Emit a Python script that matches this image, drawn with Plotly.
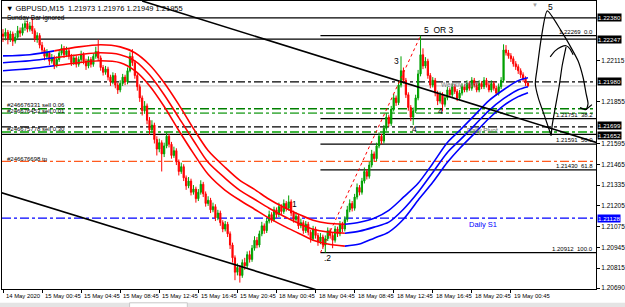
import plotly.graph_objects as go

# ---------------- data ----------------
X_TICK_BARS = [0, 16, 32, 48, 64, 80, 96, 112, 128, 144, 160, 176, 192, 208]
X_TICK_LABELS = ["14 May 2020", "15 May 00:45", "15 May 04:45", "15 May 08:45", "15 May 12:45",
                 "15 May 16:45", "15 May 20:45", "18 May 00:45", "18 May 04:45", "18 May 08:45",
                 "18 May 12:45", "18 May 16:45", "18 May 20:45", "19 May 00:45"]
PRICE_TICKS = [1.22115, 1.21855, 1.21595, 1.21465,
               1.21335, 1.21205, 1.21075, 1.20945, 1.20815, 1.20690]

CLOSE = [
    1.22265, 1.22290, 1.22250, 1.22280, 1.22235, 1.22260, 1.22300, 1.22285, 1.22320, 1.22345,
    1.22310, 1.22330, 1.22300, 1.22250, 1.22270, 1.22210, 1.22180, 1.22140, 1.22160, 1.22110,
    1.22130, 1.22085, 1.22120, 1.22160, 1.22190, 1.22150, 1.22175, 1.22140, 1.22100, 1.22130,
    1.22090, 1.22120, 1.22150, 1.22110, 1.22080, 1.22120, 1.22090, 1.22140, 1.22170, 1.22130,
    1.22070, 1.22040, 1.22060, 1.22010, 1.21980, 1.22020, 1.21960, 1.21930, 1.21970, 1.22010,
    1.21980, 1.22050, 1.22140, 1.22100, 1.22020, 1.21950, 1.21880, 1.21800, 1.21830, 1.21740,
    1.21680, 1.21710, 1.21620, 1.21560, 1.21600, 1.21530, 1.21580, 1.21640, 1.21590, 1.21520,
    1.21550, 1.21480, 1.21420, 1.21450, 1.21380, 1.21330, 1.21360, 1.21290, 1.21310, 1.21250,
    1.21290, 1.21340, 1.21280, 1.21220, 1.21240, 1.21180, 1.21200, 1.21130, 1.21160, 1.21100,
    1.21060, 1.21090, 1.21030, 1.20960, 1.20880, 1.20790, 1.20820, 1.20770, 1.20850, 1.20830,
    1.20900, 1.20870, 1.20940, 1.20990, 1.20960, 1.21030, 1.21080, 1.21050, 1.21110, 1.21150,
    1.21120, 1.21180, 1.21150, 1.21200, 1.21170, 1.21220, 1.21190, 1.21230, 1.21160, 1.21120,
    1.21140, 1.21080, 1.21100, 1.21050, 1.21090, 1.21040, 1.21000, 1.21060, 1.21020, 1.20980,
    1.21010, 1.20960, 1.21000, 1.21050, 1.21020, 1.20990, 1.21060, 1.21030, 1.21090, 1.21060,
    1.21120, 1.21180, 1.21220, 1.21190, 1.21260, 1.21320, 1.21290, 1.21360, 1.21420, 1.21390,
    1.21460, 1.21530, 1.21500, 1.21580, 1.21640, 1.21610, 1.21690, 1.21760, 1.21720, 1.21810,
    1.21880, 1.21850, 1.21960, 1.22050, 1.21990, 1.21900, 1.21820, 1.21760, 1.21800, 1.21880,
    1.22030, 1.22150, 1.22080, 1.22110, 1.22020, 1.21960, 1.21990, 1.21910, 1.21860, 1.21900,
    1.21840, 1.21880, 1.21930, 1.21900, 1.21950, 1.21920, 1.21880, 1.21910, 1.21950, 1.21930,
    1.21970, 1.21940, 1.21990, 1.21960, 1.21930, 1.21970, 1.21950, 1.21990, 1.21960, 1.21930,
    1.21970, 1.21940, 1.21910, 1.21950, 1.21990, 1.22180, 1.22162, 1.22143, 1.22125, 1.22093,
    1.22075, 1.22050, 1.22025, 1.22000, 1.21973, 1.21955,
]
OPEN = [
    1.22280, 1.22265, 1.22290, 1.22250, 1.22280, 1.22235, 1.22260, 1.22300, 1.22285, 1.22320,
    1.22345, 1.22310, 1.22330, 1.22300, 1.22250, 1.22270, 1.22210, 1.22180, 1.22140, 1.22160,
    1.22110, 1.22130, 1.22085, 1.22120, 1.22160, 1.22190, 1.22150, 1.22175, 1.22140, 1.22100,
    1.22130, 1.22090, 1.22120, 1.22150, 1.22110, 1.22080, 1.22120, 1.22090, 1.22140, 1.22170,
    1.22130, 1.22070, 1.22040, 1.22060, 1.22010, 1.21980, 1.22020, 1.21960, 1.21930, 1.21970,
    1.22010, 1.21980, 1.22050, 1.22140, 1.22100, 1.22020, 1.21950, 1.21880, 1.21800, 1.21830,
    1.21740, 1.21680, 1.21710, 1.21620, 1.21560, 1.21600, 1.21530, 1.21580, 1.21640, 1.21590,
    1.21520, 1.21550, 1.21480, 1.21420, 1.21450, 1.21380, 1.21330, 1.21360, 1.21290, 1.21310,
    1.21250, 1.21290, 1.21340, 1.21280, 1.21220, 1.21240, 1.21180, 1.21200, 1.21130, 1.21160,
    1.21100, 1.21060, 1.21090, 1.21030, 1.20960, 1.20880, 1.20790, 1.20820, 1.20770, 1.20850,
    1.20830, 1.20900, 1.20870, 1.20940, 1.20990, 1.20960, 1.21030, 1.21080, 1.21050, 1.21110,
    1.21150, 1.21120, 1.21180, 1.21150, 1.21200, 1.21170, 1.21220, 1.21190, 1.21230, 1.21160,
    1.21120, 1.21140, 1.21080, 1.21100, 1.21050, 1.21090, 1.21040, 1.21000, 1.21060, 1.21020,
    1.20980, 1.21010, 1.20960, 1.21000, 1.21050, 1.21020, 1.20990, 1.21060, 1.21030, 1.21090,
    1.21060, 1.21120, 1.21180, 1.21220, 1.21190, 1.21260, 1.21320, 1.21290, 1.21360, 1.21420,
    1.21390, 1.21460, 1.21530, 1.21500, 1.21580, 1.21640, 1.21610, 1.21690, 1.21760, 1.21720,
    1.21810, 1.21880, 1.21850, 1.21960, 1.22050, 1.21990, 1.21900, 1.21820, 1.21760, 1.21800,
    1.21880, 1.22030, 1.22150, 1.22080, 1.22110, 1.22020, 1.21960, 1.21990, 1.21910, 1.21860,
    1.21900, 1.21840, 1.21880, 1.21930, 1.21900, 1.21950, 1.21920, 1.21880, 1.21910, 1.21950,
    1.21930, 1.21970, 1.21940, 1.21990, 1.21960, 1.21930, 1.21970, 1.21950, 1.21990, 1.21960,
    1.21930, 1.21970, 1.21940, 1.21910, 1.21950, 1.21990, 1.22180, 1.22162, 1.22143, 1.22125,
    1.22093, 1.22075, 1.22050, 1.22025, 1.22000, 1.21973,
]
HIGH = [
    1.22310, 1.22315, 1.22305, 1.22300, 1.22295, 1.22285, 1.22330, 1.22320, 1.22345, 1.22365,
    1.22360, 1.22355, 1.22378, 1.22315, 1.22290, 1.22285, 1.22230, 1.22195, 1.22185, 1.22170,
    1.22155, 1.22145, 1.22140, 1.22180, 1.22215, 1.22205, 1.22200, 1.22190, 1.22155, 1.22150,
    1.22145, 1.22140, 1.22175, 1.22165, 1.22125, 1.22140, 1.22135, 1.22160, 1.22200, 1.22245,
    1.22145, 1.22085, 1.22080, 1.22075, 1.22025, 1.22040, 1.22035, 1.21975, 1.21990, 1.22030,
    1.22025, 1.22070, 1.22165, 1.22185, 1.22115, 1.22035, 1.21965, 1.21895, 1.21860, 1.21845,
    1.21760, 1.21740, 1.21725, 1.21640, 1.21625, 1.21615, 1.21600, 1.21665, 1.21655, 1.21605,
    1.21575, 1.21565, 1.21495, 1.21475, 1.21465, 1.21395, 1.21385, 1.21375, 1.21335, 1.21325,
    1.21310, 1.21365, 1.21355, 1.21295, 1.21265, 1.21255, 1.21225, 1.21215, 1.21180, 1.21175,
    1.21115, 1.21110, 1.21105, 1.21045, 1.20975, 1.20895, 1.20845, 1.20835, 1.20870, 1.20880,
    1.20920, 1.20925, 1.20960, 1.21015, 1.21010, 1.21050, 1.21105, 1.21095, 1.21130, 1.21175,
    1.21165, 1.21200, 1.21195, 1.21225, 1.21215, 1.21245, 1.21235, 1.21270, 1.21245, 1.21175,
    1.21165, 1.21155, 1.21125, 1.21115, 1.21110, 1.21105, 1.21055, 1.21080, 1.21075, 1.21035,
    1.21035, 1.21025, 1.21020, 1.21070, 1.21065, 1.21035, 1.21080, 1.21075, 1.21110, 1.21105,
    1.21140, 1.21205, 1.21245, 1.21235, 1.21280, 1.21345, 1.21335, 1.21380, 1.21445, 1.21435,
    1.21480, 1.21555, 1.21545, 1.21600, 1.21665, 1.21655, 1.21710, 1.21785, 1.21775, 1.21830,
    1.21905, 1.21895, 1.21985, 1.22140, 1.22070, 1.22005, 1.21915, 1.21835, 1.21820, 1.21900,
    1.22055, 1.22269, 1.22190, 1.22135, 1.22125, 1.22035, 1.22010, 1.22005, 1.21925, 1.21920,
    1.21915, 1.21900, 1.21950, 1.21945, 1.21970, 1.21965, 1.21935, 1.21930, 1.21970, 1.21965,
    1.21990, 1.21985, 1.22010, 1.22005, 1.21975, 1.21990, 1.21985, 1.22010, 1.22005, 1.21975,
    1.21990, 1.21985, 1.21955, 1.21970, 1.22010, 1.22215, 1.22210, 1.22180, 1.22160, 1.22140,
    1.22110, 1.22090, 1.22065, 1.22040, 1.22015, 1.21976,
]
LOW = [
    1.22230, 1.22240, 1.22215, 1.22230, 1.22205, 1.22220, 1.22250, 1.22260, 1.22270, 1.22300,
    1.22290, 1.22295, 1.22280, 1.22230, 1.22225, 1.22190, 1.22160, 1.22115, 1.22125, 1.22085,
    1.22095, 1.22060, 1.22070, 1.22105, 1.22145, 1.22130, 1.22135, 1.22120, 1.22080, 1.22085,
    1.22070, 1.22075, 1.22105, 1.22090, 1.22055, 1.22065, 1.22070, 1.22075, 1.22125, 1.22110,
    1.22050, 1.22020, 1.22025, 1.21990, 1.21955, 1.21965, 1.21940, 1.21905, 1.21915, 1.21955,
    1.21960, 1.21965, 1.22040, 1.22080, 1.22000, 1.21925, 1.21855, 1.21770, 1.21780, 1.21715,
    1.21650, 1.21660, 1.21595, 1.21520, 1.21540, 1.21420, 1.21510, 1.21565, 1.21570, 1.21500,
    1.21505, 1.21460, 1.21395, 1.21405, 1.21360, 1.21305, 1.21315, 1.21270, 1.21275, 1.21225,
    1.21235, 1.21275, 1.21260, 1.21200, 1.21205, 1.21160, 1.21165, 1.21110, 1.21115, 1.21080,
    1.21040, 1.21045, 1.21010, 1.20935, 1.20850, 1.20740, 1.20770, 1.20725, 1.20755, 1.20805,
    1.20815, 1.20850, 1.20855, 1.20925, 1.20940, 1.20945, 1.21015, 1.21030, 1.21035, 1.21095,
    1.21100, 1.21105, 1.21130, 1.21135, 1.21150, 1.21155, 1.21170, 1.21175, 1.21140, 1.21100,
    1.21105, 1.21060, 1.21065, 1.21030, 1.21035, 1.21020, 1.20975, 1.20985, 1.21000, 1.20955,
    1.20965, 1.20935, 1.20912, 1.20985, 1.21000, 1.20940, 1.20975, 1.21010, 1.21015, 1.21040,
    1.21045, 1.21105, 1.21165, 1.21170, 1.21175, 1.21245, 1.21270, 1.21275, 1.21345, 1.21370,
    1.21375, 1.21445, 1.21480, 1.21485, 1.21565, 1.21590, 1.21595, 1.21675, 1.21700, 1.21705,
    1.21795, 1.21830, 1.21835, 1.21945, 1.21970, 1.21880, 1.21800, 1.21735, 1.21710, 1.21785,
    1.21865, 1.22015, 1.22060, 1.22065, 1.22000, 1.21940, 1.21945, 1.21890, 1.21835, 1.21845,
    1.21795, 1.21825, 1.21865, 1.21885, 1.21885, 1.21905, 1.21860, 1.21865, 1.21895, 1.21915,
    1.21915, 1.21925, 1.21925, 1.21945, 1.21915, 1.21915, 1.21935, 1.21935, 1.21945, 1.21915,
    1.21915, 1.21925, 1.21895, 1.21895, 1.21935, 1.21975, 1.22145, 1.22125, 1.22105, 1.22075,
    1.22055, 1.22030, 1.22005, 1.21980, 1.21955, 1.21949,
]
BARS = list(range(len(CLOSE)))

# moving-average band (three lines)
MA_BARS = [0, 11, 21, 31, 40, 48, 54, 60, 66, 72, 78, 84, 91, 97, 103, 109, 115, 121, 127, 133,
           140, 146, 152, 158, 164, 170, 176, 182, 187, 193, 199, 205, 211, 215]
MA_UPPER = [1.22143, 1.22150, 1.22174, 1.22199, 1.22212, 1.22199, 1.22162, 1.22087, 1.21975, 1.21838,
            1.21688, 1.21551, 1.21445, 1.21364, 1.21308, 1.21246, 1.21196, 1.21153, 1.21115, 1.21096,
            1.21090, 1.21103, 1.21128, 1.21177, 1.21259, 1.21346, 1.21470, 1.21601, 1.21676, 1.21769,
            1.21863, 1.21931, 1.21988, 1.22006]
MA_MID = [1.22100, 1.22112, 1.22131, 1.22150, 1.22162, 1.22150, 1.22112, 1.22025, 1.21900, 1.21757,
          1.21614, 1.21477, 1.21377, 1.21302, 1.21246, 1.21190, 1.21140, 1.21096, 1.21059, 1.21041,
          1.21034, 1.21047, 1.21072, 1.21103, 1.21184, 1.21290, 1.21414, 1.21539, 1.21614, 1.21707,
          1.21801, 1.21875, 1.21931, 1.21950]
MA_LOWER = [1.22050, 1.22062, 1.22081, 1.22100, 1.22112, 1.22100, 1.22050, 1.21956, 1.21826, 1.21676,
            1.21533, 1.21402, 1.21302, 1.21240, 1.21184, 1.21128, 1.21078, 1.21034, 1.20990, 1.20966,
            1.20953, 1.20966, 1.21003, 1.21041, 1.21121, 1.21240, 1.21352, 1.21477, 1.21564, 1.21657,
            1.21751, 1.21832, 1.21888, 1.21913]
MA_SEGMENTS = [(0, 3, "#0000ff"), (2, 21, "#ff0000"), (20, 34, "#0000ff")]

# horizontal levels
SOLID_LEVELS = [1.22380, 1.22247, 1.21652]
BID_LEVEL = 1.21955
DASH_LEVELS = [1.21980, 1.21812, 1.21785, 1.21699, 1.21667, 1.21483, 1.21128]
DASH_COLORS = ["#000000", "#008000", "#55b555", "#000000", "#00a000", "#ff5a1e", "#0000ff"]
ORDER_TEXT = ["#246676331 sell 0.06", "#246676453 sell 0.01", "#246675778 sell 0.30", "#246676698 tp"]
ORDER_TEXT_PRICE = [1.21837, 1.21800, 1.21688, 1.21495]
AXIS_BOX_PRICES = [1.22380, 1.22247, 1.21980, 1.21699, 1.21652, 1.21128]
AXIS_BOX_COLORS = ["#000000", "#000000", "#000000", "#000000", "#000000", "#0000ff"]
AXIS_BOX_SHIFT = [0, 0, 0, 1, -1, 0]

# fibonacci retracement
FIB_ANCHOR_BARS = [130, 171]
FIB_ANCHOR_PRICES = [1.20912, 1.22269]
FIB_PRICES = [1.22269, 1.21751, 1.21591, 1.21430, 1.20912]
FIB_NAMES = ["0.0", "38.2", "50.0", "61.8", "100.0"]

# trend lines
TREND1_BARS, TREND1_PRICES = [57, 243], [1.22486, 1.21601]
TREND2_BARS, TREND2_PRICES = [-1.2, 130], [1.21290, 1.20672]

# hand drawn strokes
STROKE1_BARS = [224.5, 222.0, 219.2, 218.0, 218.8, 220.4, 222.9, 228.6, 232.7, 235.5, 237.6, 238.8, 239.6, 238.8, 236.3]
STROKE1_PRICES = [1.21645, 1.21757, 1.21882, 1.21969, 1.22069, 1.22249, 1.22424, 1.22299, 1.22193, 1.22112,
                  1.22006, 1.21907, 1.21844, 1.21807, 1.21819]
STROKE2_BARS = [224.1, 226.1, 228.6, 230.6, 232.2, 233.5]
STROKE2_PRICES = [1.22137, 1.22174, 1.22199, 1.22206, 1.22187, 1.22150]
STROKE3_BARS = [230.6, 229.0, 227.8, 226.1, 224.9, 224.5]
STROKE3_PRICES = [1.22199, 1.22081, 1.21956, 1.21813, 1.21707, 1.21645]
STROKE4_BARS = [238.8, 241.2]
STROKE4_PRICES = [1.21807, 1.21838]

# wave labels
WAVE_TEXT = ["5", "5  OR 3", "3", "4", "4", "1", ".2"]
WAVE_BARS = [224.1, 171.8, 161.2, 179.2, 168.6, 119.2, 133.0]
WAVE_PRICES = [1.22449, 1.22305, 1.22112, 1.21801, 1.21688, 1.21215, 1.20878]
WAVE_ANCHOR = ["center", "left", "center", "center", "center", "center", "center"]

PIVOT_TEXT = ["Weekly Pivot", "Daily Pivot", "Daily S1"]
PIVOT_BARS = [187.3, 196.3, 196.7]
PIVOT_PRICES = [1.21960, 1.21672, 1.21090]
PIVOT_COLORS = ["#808080", "#707070", "#0000ff"]

X_RANGE = [-0.41, 242.86]
Y_RANGE = [1.20685, 1.22486]

FONT = "Liberation Sans, Arial, sans-serif"

# ---------------- figure ----------------
fig = go.Figure()

shapes = []
for p in SOLID_LEVELS:
    shapes.append(dict(type="line", xref="paper", x0=0, x1=1, yref="y", y0=p, y1=p,
                       line=dict(color="#000000", width=1.2), layer="below"))
shapes.append(dict(type="line", xref="paper", x0=0, x1=1, yref="y", y0=BID_LEVEL, y1=BID_LEVEL,
                   line=dict(color="#c0c0c0", width=1), layer="below"))
for p, c in zip(DASH_LEVELS, DASH_COLORS):
    w = 1.6 if c in ("#008000", "#00a000", "#55b555") else 1.1
    shapes.append(dict(type="line", xref="paper", x0=0, x1=1, yref="y", y0=p, y1=p,
                       line=dict(color=c, width=w, dash="dashdot"), layer="below"))
for p in FIB_PRICES:
    shapes.append(dict(type="line", xref="x", x0=FIB_ANCHOR_BARS[0], x1=X_RANGE[1], yref="y", y0=p, y1=p,
                       line=dict(color="#000000", width=1.2), layer="below"))
# bottom tab strip of the terminal window
shapes.append(dict(type="rect", xref="paper", x0=-0.01, x1=1.06, yref="paper", y0=-0.075, y1=-0.048,
                   fillcolor="#e4e4e4", line=dict(width=0), layer="below"))
shapes.append(dict(type="rect", xref="paper", x0=0.2148, x1=0.312, yref="paper", y0=-0.075, y1=-0.048,
                   fillcolor="#ffffff", line=dict(color="#c8c8c8", width=1), layer="below"))

fig.add_trace(go.Candlestick(
    x=BARS, open=OPEN, high=HIGH, low=LOW, close=CLOSE,
    increasing=dict(line=dict(color="#00a000", width=1), fillcolor="#00a000"),
    decreasing=dict(line=dict(color="#ff0000", width=1), fillcolor="#ff0000"),
    whiskerwidth=0, hoverinfo="skip", showlegend=False))

for series in (MA_UPPER, MA_MID, MA_LOWER):
    for a, b, col in MA_SEGMENTS:
        fig.add_trace(go.Scatter(x=MA_BARS[a:b], y=series[a:b], mode="lines",
                                 line=dict(color=col, width=1.6, shape="spline", smoothing=0.8),
                                 hoverinfo="skip", showlegend=False))

for xs, ys in ((TREND1_BARS, TREND1_PRICES), (TREND2_BARS, TREND2_PRICES)):
    fig.add_trace(go.Scatter(x=xs, y=ys, mode="lines", line=dict(color="#000000", width=1.6),
                             hoverinfo="skip", showlegend=False))

fig.add_trace(go.Scatter(x=FIB_ANCHOR_BARS, y=FIB_ANCHOR_PRICES, mode="lines",
                         line=dict(color="#ff0000", width=1, dash="dot"),
                         hoverinfo="skip", showlegend=False))

for xs, ys in ((STROKE1_BARS, STROKE1_PRICES), (STROKE2_BARS, STROKE2_PRICES),
               (STROKE3_BARS, STROKE3_PRICES), (STROKE4_BARS, STROKE4_PRICES)):
    fig.add_trace(go.Scatter(x=xs, y=ys, mode="lines",
                             line=dict(color="#000000", width=1.2, shape="spline", smoothing=0.6),
                             hoverinfo="skip", showlegend=False))

ann = []
ann.append(dict(xref="paper", yref="paper", x=0.003, y=1.0, xanchor="left", yanchor="top", yshift=-1,
                text="▼ GBPUSD,M15  1.21973 1.21976 1.21949 1.21955", showarrow=False,
                font=dict(family=FONT, size=7.5, color="#000000")))
ann.append(dict(xref="paper", yref="paper", x=0.005, y=1.0, xanchor="left", yanchor="top", yshift=-11,
                text="Sunday Bar ignored", showarrow=False,
                font=dict(family=FONT, size=6.5, color="#000000")))
ann.append(dict(xref="x", yref="paper", x=218, y=1.0, xanchor="center", yanchor="top", yshift=1,
                text="▼", showarrow=False, font=dict(family=FONT, size=6, color="#a0a0a0")))
for t, p in zip(ORDER_TEXT, ORDER_TEXT_PRICE):
    ann.append(dict(xref="paper", yref="y", x=0.005, y=p, xanchor="left", yanchor="middle",
                    text=t, showarrow=False, font=dict(family=FONT, size=6, color="#000000")))
for p, n in zip(FIB_PRICES, FIB_NAMES):
    ann.append(dict(xref="paper", yref="y", x=1.0, y=p, xanchor="right", yanchor="bottom", xshift=-1,
                    yshift=-1, text=f"{p:.5f}  {n}", showarrow=False,
                    font=dict(family=FONT, size=6, color="#000000")))
for t, b, p, a in zip(WAVE_TEXT, WAVE_BARS, WAVE_PRICES, WAVE_ANCHOR):
    ann.append(dict(xref="x", yref="y", x=b, y=p, xanchor=a, yanchor="middle", text=t,
                    showarrow=False, font=dict(family=FONT, size=8.5, color="#000000")))
for t, b, p, c in zip(PIVOT_TEXT, PIVOT_BARS, PIVOT_PRICES, PIVOT_COLORS):
    ann.append(dict(xref="x", yref="y", x=b, y=p, xanchor="center", yanchor="middle", text=t,
                    showarrow=False, font=dict(family=FONT, size=6.5 if c != "#0000ff" else 7.5, color=c)))
for p, c, s in zip(AXIS_BOX_PRICES, AXIS_BOX_COLORS, AXIS_BOX_SHIFT):
    ann.append(dict(xref="paper", yref="y", x=1.0, y=p, xanchor="left", yanchor="middle", xshift=1,
                    yshift=s, text=f"{p:.5f}", showarrow=False, bgcolor=c, borderpad=0,
                    font=dict(family=FONT, size=6.2, color="#ffffff")))
for b, t in zip(X_TICK_BARS, X_TICK_LABELS):
    ann.append(dict(xref="x", yref="paper", x=b, y=0, xanchor="left", yanchor="top", xshift=1, yshift=-2,
                    text=t, showarrow=False, font=dict(family=FONT, size=5.9, color="#000000")))

fig.update_layout(
    width=625, height=307,
    margin=dict(l=2, r=27, t=0, b=18),
    paper_bgcolor="#ffffff", plot_bgcolor="#ffffff",
    showlegend=False,
    shapes=shapes, annotations=ann,
    xaxis=dict(range=X_RANGE, showgrid=False, zeroline=False, rangeslider=dict(visible=False),
               tickvals=X_TICK_BARS, showticklabels=False, ticks="outside", ticklen=3,
               tickcolor="#000000", showline=True, linecolor="#000000", linewidth=1, mirror=True),
    yaxis=dict(range=Y_RANGE, side="right", showgrid=False, zeroline=False,
               tickvals=PRICE_TICKS, ticktext=[f"{v:.5f}" for v in PRICE_TICKS],
               ticks="outside", ticklen=3, tickcolor="#000000",
               tickfont=dict(family=FONT, size=6.5, color="#000000"),
               showline=True, linecolor="#000000", linewidth=1, mirror=True),
)

fig.write_html("out.html")
